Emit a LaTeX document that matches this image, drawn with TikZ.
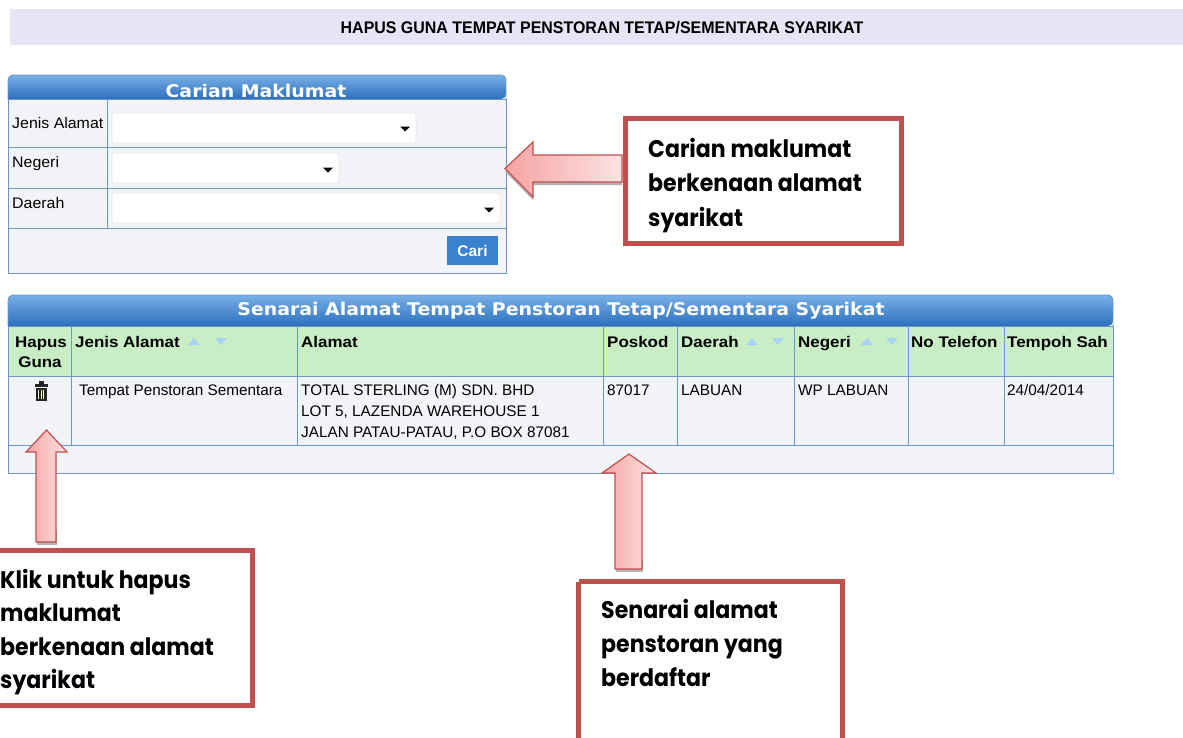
\documentclass[tikz,border=0pt]{standalone}
\usepackage{fontspec}
\setmainfont{Liberation Sans}
\newfontfamily\notefont{Poppins}
\newfontfamily\bandfont{DejaVu Sans}
\usetikzlibrary{calc}
\definecolor{titlebg}{HTML}{E5E5F5}
\definecolor{bandtop}{HTML}{78B0E6}
\definecolor{bandbot}{HTML}{2C6FBE}
\definecolor{gridline}{HTML}{6C96C6}
\definecolor{rowbg}{HTML}{F2F4F8}
\definecolor{headgreen}{HTML}{C9EEC6}
\definecolor{sortblue}{HTML}{A9D3F2}
\definecolor{calloutred}{HTML}{C0504D}
\definecolor{arrowpink}{HTML}{F4A3A3}
\definecolor{arrowlight}{HTML}{FDE3E3}
\definecolor{caribtn}{HTML}{3A82CE}
\def\sortdown(#1,#2){\fill[sortblue] (#1-6,#2-3) -- (#1+6,#2-3) -- (#1,#2+4) -- cycle;}
\def\sortup(#1,#2){\fill[sortblue] (#1-6,#2+4) -- (#1+6,#2+4) -- (#1,#2-3) -- cycle;}
\def\droptri(#1,#2){\fill[black] (#1-5,#2-2.5) -- (#1+5,#2-2.5) -- (#1,#2+2.5) -- cycle;}

\begin{document}
\begin{tikzpicture}[x=1pt, y=-1pt,
  uitext/.style={font=\fontsize{15.3}{20}\selectfont, inner sep=0pt, anchor=base west},
  uilabel/.style={uitext, xscale=1.04},
  uibold/.style={uitext, font=\fontsize{15.4}{20}\selectfont\bfseries, xscale=1.1},
  bandtext/.style={font=\bandfont\bfseries\fontsize{17.5}{17.5}\selectfont, text=white, inner sep=0pt, xscale=1.08},
  notetext/.style={font=\notefont\bfseries\fontsize{24}{24}\selectfont, inner sep=0pt, anchor=base west, xscale=0.92},
  notebox/.style={draw=calloutred, line width=5pt},
  arrowshadow/.style={fill=black!30},
  blockarrow/.style={draw=calloutred, line width=1.2pt, left color=arrowpink, right color=arrowlight}]
			%%%%% START %%%%%
			\useasboundingbox (0,0) rectangle (1183,737);
			
			% title
			\fill[titlebg] (10,9) rectangle (1183,45);
			\node[font=\fontsize{16.8}{16.8}\selectfont\bfseries, xscale=0.95, inner sep=0pt] (title) at (602,28) {HAPUS GUNA TEMPAT PENSTORAN TETAP/SEMENTARA SYARIKAT};
			
			% carian maklumat
			\fill[rowbg] (8,99) rectangle (506,273);
			\shade[top color=bandtop, bottom color=bandbot, rounded corners=5pt] (8,99) -- (8,75) -- (506,75) -- (506,99) [sharp corners] -- cycle;
			\draw[gridline, line width=0.9pt, rounded corners=5pt] (8,99) -- (8,75) -- (506,75) -- (506,99);
			\draw[gridline, line width=0.9pt] (8,99) rectangle (506,273);
			\draw[gridline, line width=0.9pt] (8,147) -- (506,147);
			\draw[gridline, line width=0.9pt] (8,188) -- (506,188);
			\draw[gridline, line width=0.9pt] (8,228) -- (506,228);
			\draw[gridline, line width=0.9pt] (107,99) -- (107,228);
			\node[bandtext] (carianhead) at (256,91) {Carian Maklumat};
			
			\node[uilabel] (lbljenis) at (12,128) {Jenis Alamat};
			\node[uilabel] (lblnegeri) at (12,167) {Negeri};
			\node[uilabel] (lbldaerah) at (12,208) {Daerah};
			
			\draw[black!20, fill=white, rounded corners=2pt] (112,113) rectangle (416,143);
			\draw[black!20, fill=white, rounded corners=2pt] (112,153) rectangle (339,183);
			\draw[black!20, fill=white, rounded corners=2pt] (112,193) rectangle (500,223);
			\droptri(405,129)
			\droptri(328,170)
			\droptri(489,210)
			
			\fill[caribtn] (447,236) rectangle (498,265);
			\node[font=\fontsize{15.5}{15.5}\selectfont\bfseries, text=white, inner sep=0pt] (cari) at (472.5,250.5) {Cari};
			
			% senarai table
			\fill[rowbg] (8,326) rectangle (1113,473);
			\fill[headgreen] (8,326) rectangle (1113,376);
			\shade[top color=bandtop, bottom color=bandbot, rounded corners=5pt] (8,326) -- (8,295) -- (1113,295) -- (1113,326) [sharp corners] -- cycle;
			\draw[gridline, line width=0.9pt, rounded corners=5pt] (8,326) -- (8,295) -- (1113,295) -- (1113,326);
			\draw[gridline, line width=0.9pt] (8,326) rectangle (1113,473);
			\draw[gridline, line width=0.9pt] (8,376) -- (1113,376);
			\draw[gridline, line width=0.9pt] (8,445) -- (1113,445);
			\foreach \cx in {71,297,603,677,794,908,1004}
				\draw[gridline, line width=0.9pt] (\cx,326) -- (\cx,445);
			\node[bandtext] (senaraihead) at (561,311) {Senarai Alamat Tempat Penstoran Tetap/Sementara Syarikat};
			
			\node[uibold, anchor=base] (hhapus) at (41,347) {Hapus};
			\node[uibold, anchor=base] (hguna) at (40,367.5) {Guna};
			\node[uibold] (hjenis) at (75,347) {Jenis Alamat};
			\node[uibold] (halamat) at (301,347) {Alamat};
			\node[uibold] (hposkod) at (607,347) {Poskod};
			\node[uibold] (hdaerah) at (681,347) {Daerah};
			\node[uibold] (hnegeri) at (798,347) {Negeri};
			\node[uibold] (htelefon) at (911,347) {No Telefon};
			\node[uibold] (htempoh) at (1007,347) {Tempoh Sah};
			\sortup(194,341) \sortdown(221,341)
			\sortup(752,341) \sortdown(778,341)
			\sortup(867,341) \sortdown(892,341)
			
			% trash icon
			\fill[black!85] (38.5,381) rectangle (43.5,384);
			\fill[black!85] (34.5,384) rectangle (47.5,387);
			\fill[black!85] (35.5,387.5) rectangle (46.5,401);
			\foreach \sx in {38.3,41,43.7}
				\draw[white!80!yellow, line width=0.9pt] (\sx,389.5) -- (\sx,399);
			
			\node[uitext] (djenis) at (79,395.5) {Tempat Penstoran Sementara};
			\node[uitext] (dalamatone) at (301,395.5) {TOTAL STERLING (M) SDN. BHD};
			\node[uitext] (dalamattwo) at (301,416.5) {LOT 5, LAZENDA WAREHOUSE 1};
			\node[uitext] (dalamatthree) at (301,437.5) {JALAN PATAU-PATAU, P.O BOX 87081};
			\node[uitext] (dposkod) at (607,395.5) {87017};
			\node[uitext] (ddaerah) at (681,395.5) {LABUAN};
			\node[uitext] (dnegeri) at (798,395.5) {WP LABUAN};
			\node[uitext] (dtempoh) at (1007,395.5) {24/04/2014};
			
			% callout arrows
			\fill[arrowshadow] (622,158) -- (533,158) -- (533,145) -- (505,171.5) -- (533,200) -- (533,185) -- (622,185) -- cycle;
			\draw[blockarrow] (622,155) -- (533,155) -- (533,142) -- (505,168.5) -- (533,197) -- (533,182) -- (622,182) -- cycle;
			\fill[arrowshadow] (37,545) rectangle (57,530);
			\draw[blockarrow] (36,542) -- (36,452) -- (26,452) -- (46.5,430) -- (67,452) -- (56,452) -- (56,542) -- cycle;
			\fill[arrowshadow] (616,572) rectangle (643,560);
			\draw[blockarrow] (615,569) -- (615,473) -- (602,473) -- (629,454) -- (656,473) -- (642,473) -- (642,569) -- cycle;
			
			% callout boxes
			\draw[notebox] (625.5,118.5) rectangle (901.5,243.5);
			\node[notetext] (carianone) at (648,157) {Carian maklumat};
			\node[notetext] (cariantwo) at (648,191.5) {berkenaan alamat};
			\node[notetext] (carianthree) at (648,226) {syarikat};
			
			\draw[notebox] (-5,550.5) rectangle (252.5,705.5);
			\node[notetext] (hapusone) at (0,588) {Klik untuk hapus};
			\node[notetext] (hapustwo) at (0,621.5) {maklumat};
			\node[notetext] (hapusthree) at (0,655) {berkenaan alamat};
			\node[notetext] (hapusfour) at (0,688.5) {syarikat};
			
			\draw[notebox] (578.5,581.5) -- (578.5,745) (842.5,745) -- (842.5,581.5) -- (578.5,581.5);
			\node[notetext] (senaraione) at (601,618) {Senarai alamat};
			\node[notetext] (senaraitwo) at (601,652) {penstoran yang};
			\node[notetext] (senaraithree) at (601,686) {berdaftar};
			%%%%% END %%%%%
		\end{tikzpicture}
\end{document}
